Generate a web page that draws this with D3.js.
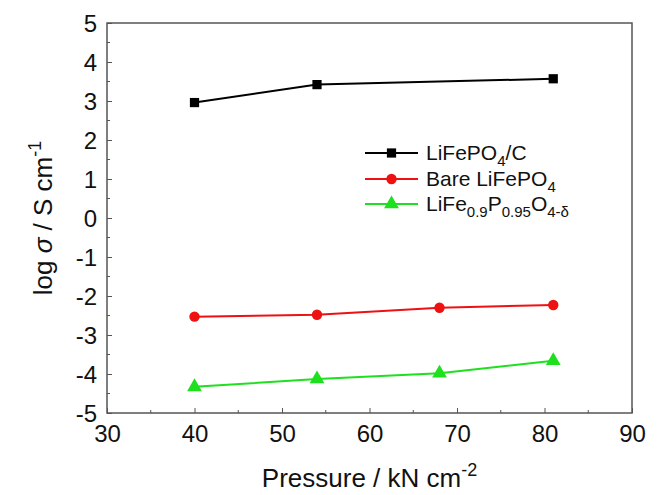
<!DOCTYPE html>
<html>
<head>
<meta charset="utf-8">
<script src="https://cdn.jsdelivr.net/npm/d3@7"></script>
<style>
  body { margin: 0; background: #fff; }
  svg { font-family: "Liberation Sans", Arial, sans-serif; }
</style>
</head>
<body>
<svg width="661" height="495"></svg>
<script>
// data
const pressureC = [40, 54, 81];
const logSigmaC = [2.96, 3.42, 3.57];
const pressure = [40, 54, 68, 81];
const logSigmaBare = [-2.53, -2.48, -2.3, -2.23];
const logSigmaDoped = [-4.33, -4.13, -3.98, -3.66];
const xTicks = [30, 40, 50, 60, 70, 80, 90];
const yTicks = [-5, -4, -3, -2, -1, 0, 1, 2, 3, 4, 5];

const svg = d3.select("svg");
const mLeft = 107, mRight = 632, mTop = 23, mBottom = 413;

const x = d3.scaleLinear().domain([30, 90]).range([mLeft, mRight]);
const y = d3.scaleLinear().domain([-5, 5]).range([mBottom, mTop]);

// frame
svg.append("rect")
    .attr("x", mLeft).attr("y", mTop)
    .attr("width", mRight - mLeft).attr("height", mBottom - mTop)
    .attr("fill", "none").attr("stroke", "#555").attr("stroke-width", 1.5);

// bottom axis, ticks inward
const xAxis = svg.append("g").attr("transform", "translate(0," + mBottom + ")")
    .call(d3.axisBottom(x).tickValues(xTicks).tickSize(-5).tickPadding(12).tickFormat(d => String(d)));
xAxis.append("g").selectAll("line")
    .data(d3.range(35, 90, 10))
    .enter().append("line")
    .attr("x1", d => x(d)).attr("x2", d => x(d))
    .attr("y1", 0).attr("y2", -3)
    .attr("stroke", "#555");

// left axis
const yAxis = svg.append("g").attr("transform", "translate(" + mLeft + ",0)")
    .call(d3.axisLeft(y).tickValues(yTicks).tickSize(-5).tickPadding(10).tickFormat(d => String(d)));
yAxis.append("g").selectAll("line")
    .data(d3.range(-4.5, 5, 1))
    .enter().append("line")
    .attr("y1", d => y(d)).attr("y2", d => y(d))
    .attr("x1", 0).attr("x2", 3)
    .attr("stroke", "#555");

[xAxis, yAxis].forEach(a => {
    a.select(".domain").remove();
    a.selectAll(".tick line").attr("stroke", "#555");
    a.selectAll(".tick text")
        .attr("fill", "#111")
        .style("font-size", "24px")
        .style("font-family", "Liberation Sans, Arial, sans-serif");
});
yAxis.selectAll(".tick text").attr("dy", "0.36em");
xAxis.selectAll(".tick text").attr("dy", "0.72em");

// axis titles
const xt = svg.append("text")
    .attr("x", (mLeft + mRight) / 2).attr("y", 487)
    .attr("text-anchor", "middle")
    .style("font-size", "26px").attr("fill", "#111");
xt.append("tspan").text("Pressure / kN cm");
xt.append("tspan").attr("dy", -11).style("font-size", "18px").text("-2");

const yt = svg.append("text")
    .attr("transform", "translate(52," + ((mTop + mBottom) / 2) + ") rotate(-90)")
    .attr("text-anchor", "middle")
    .style("font-size", "26px").attr("fill", "#111");
yt.append("tspan").text("log ");
yt.append("tspan").style("font-style", "italic").text("σ");
yt.append("tspan").text(" / S cm");
yt.append("tspan").attr("dy", -11).style("font-size", "18px").text("-1");

const line = d3.line().x(d => x(d[0])).y(d => y(d[1]));

const series = [
    { xs: pressureC, ys: logSigmaC, color: "#000", shape: "square" },
    { xs: pressure, ys: logSigmaBare, color: "#ee1111", shape: "circle" },
    { xs: pressure, ys: logSigmaDoped, color: "#1ee01e", shape: "triangle" }
];

const symbolFor = s => s === "square" ? d3.symbol(d3.symbolSquare, 85)
    : s === "circle" ? d3.symbol(d3.symbolCircle, 85)
    : d3.symbol(d3.symbolTriangle, 95);

series.forEach(s => {
    const pts = s.xs.map((v, i) => [v, s.ys[i]]);
    svg.append("path")
        .attr("d", line(pts))
        .attr("fill", "none")
        .attr("stroke", s.color)
        .attr("stroke-width", 2);
    svg.append("g").selectAll("path")
        .data(pts)
        .enter().append("path")
        .attr("d", symbolFor(s.shape))
        .attr("transform", d => "translate(" + x(d[0]) + "," + y(d[1]) + ")")
        .attr("fill", s.color);
});

// legend
const lg = svg.append("g");
const rowsY = [153, 179, 204];
series.forEach((s, i) => {
    lg.append("line")
        .attr("x1", 365).attr("x2", 418)
        .attr("y1", rowsY[i]).attr("y2", rowsY[i])
        .attr("stroke", s.color).attr("stroke-width", 2);
    lg.append("path")
        .attr("d", symbolFor(s.shape))
        .attr("transform", "translate(391.5," + rowsY[i] + ")")
        .attr("fill", s.color);
});

function legendText(yPos, parts) {
    const t = lg.append("text")
        .attr("x", 426).attr("y", yPos + 7)
        .style("font-size", "21px").attr("fill", "#111");
    let shifted = false;
    parts.forEach(p => {
        const sp = t.append("tspan").text(p.t);
        if (p.sub && !shifted) { sp.attr("dy", 6); shifted = true; }
        else if (!p.sub && shifted) { sp.attr("dy", -6); shifted = false; }
        if (p.sub) sp.style("font-size", "15px");
    });
}
legendText(rowsY[0], [{ t: "LiFePO" }, { t: "4", sub: true }, { t: "/C" }]);
legendText(rowsY[1], [{ t: "Bare LiFePO" }, { t: "4", sub: true }]);
legendText(rowsY[2], [{ t: "LiFe" }, { t: "0.9", sub: true }, { t: "P" }, { t: "0.95", sub: true }, { t: "O" }, { t: "4-δ", sub: true }]);
</script>
</body>
</html>
